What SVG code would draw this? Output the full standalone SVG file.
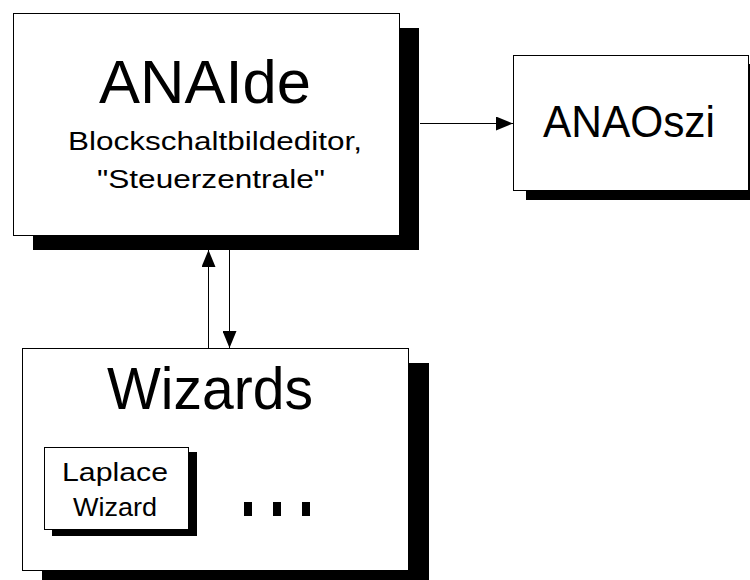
<svg xmlns="http://www.w3.org/2000/svg" width="750" height="580" viewBox="0 0 750 580">
<defs>
<style>
.box{fill:#fff;stroke:#000;stroke-width:1}
.sh{fill:#000}
.t{font-family:"Liberation Sans",Arial,sans-serif;fill:#000;text-anchor:middle}
.ln{stroke:#000;stroke-width:1;fill:none}
</style>
<marker id="ah" viewBox="0 0 17 14" refX="17" refY="7" markerWidth="17" markerHeight="14" markerUnits="userSpaceOnUse" orient="auto">
<path d="M0,0 L17,7 L0,14 z" fill="#000"/>
</marker>
</defs>
<rect width="750" height="580" fill="#fff"/>
<g id="anaide">
<rect class="sh" x="33" y="28" width="386" height="222"/>
<rect class="box" x="13.5" y="13.5" width="386" height="222"/>
<text class="t" x="205" y="103" font-size="62" textLength="212" lengthAdjust="spacingAndGlyphs">ANAIde</text>
<text class="t" x="215" y="150" font-size="25" textLength="294" lengthAdjust="spacingAndGlyphs">Blockschaltbildeditor,</text>
<text class="t" x="211" y="188" font-size="25" textLength="228" lengthAdjust="spacingAndGlyphs">"Steuerzentrale"</text>
</g>
<g id="anaoszi">
<rect class="sh" x="526" y="64" width="240" height="136"/>
<rect class="box" x="513.5" y="55.5" width="235" height="135"/>
<text class="t" x="629" y="137" font-size="44" textLength="172" lengthAdjust="spacingAndGlyphs">ANAOszi</text>
</g>
<g id="wizards">
<rect class="sh" x="42" y="363" width="387" height="230"/>
<rect class="box" x="22.5" y="348.5" width="386" height="222"/>
<text class="t" x="210" y="409" font-size="60" textLength="206" lengthAdjust="spacingAndGlyphs">Wizards</text>
<g id="laplace">
<rect class="sh" x="52" y="452" width="145" height="84"/>
<rect class="box" x="44.5" y="447.5" width="144" height="82"/>
<text class="t" x="115" y="481" font-size="25" textLength="106" lengthAdjust="spacingAndGlyphs">Laplace</text>
<text class="t" x="115" y="516" font-size="25" textLength="84" lengthAdjust="spacingAndGlyphs">Wizard</text>
</g>
<rect class="sh" x="244" y="502" width="8" height="14"/>
<rect class="sh" x="273" y="502" width="8" height="14"/>
<rect class="sh" x="302" y="502" width="8" height="14"/>
</g>
<g id="connectors">
<line class="ln" x1="420" y1="123.5" x2="513" y2="123.5" marker-end="url(#ah)"/>
<line class="ln" x1="208.5" y1="348" x2="208.5" y2="250" marker-end="url(#ah)"/>
<line class="ln" x1="229.5" y1="250" x2="229.5" y2="348" marker-end="url(#ah)"/>
</g>
</svg>
